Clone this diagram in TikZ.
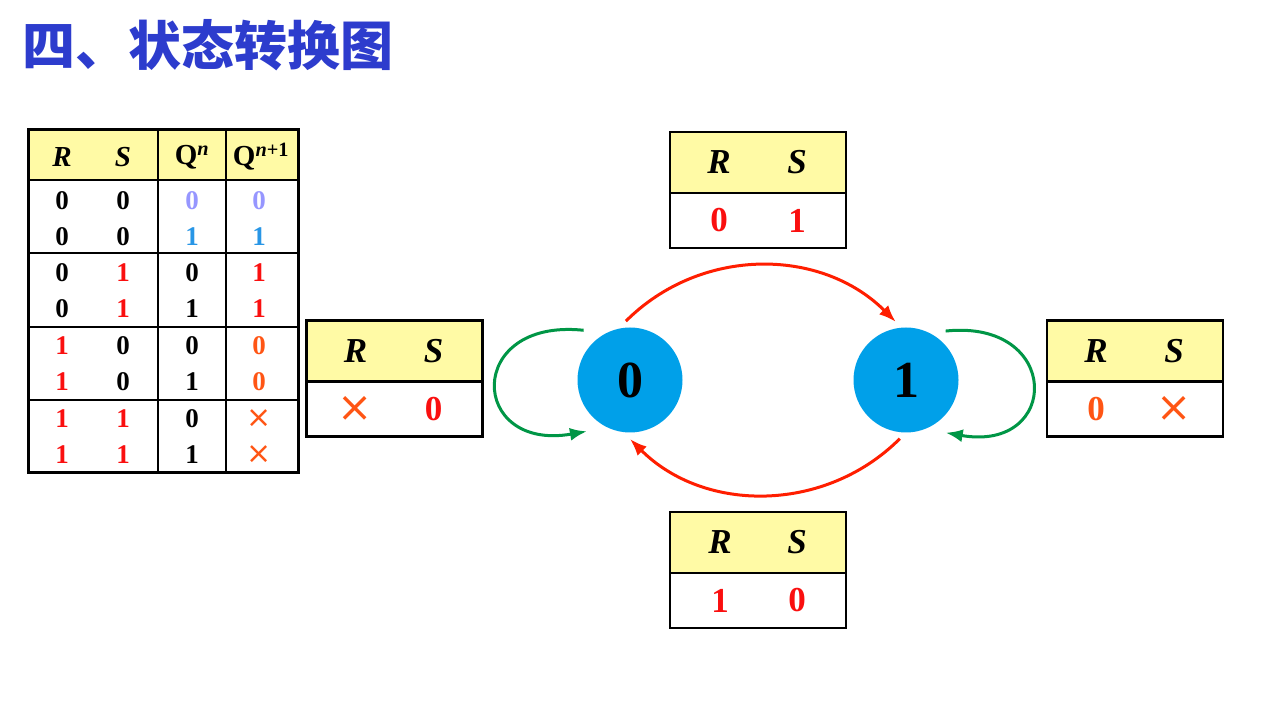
\documentclass[tikz,border=0pt]{standalone}
\usepackage{fontspec}
\setmainfont{Liberation Serif}
\newfontfamily\cjk{Noto Sans CJK SC}
\newfontfamily\symfont{DejaVu Sans}
\usetikzlibrary{arrows.meta, positioning}

\definecolor{headyellow}{RGB}{255,250,165}
\definecolor{titleblue}{RGB}{45,60,205}
\definecolor{stateblue}{RGB}{0,160,233}
\definecolor{arcred}{RGB}{255,30,0}
\definecolor{loopgreen}{RGB}{0,150,70}
\definecolor{lavender0}{RGB}{150,150,255}
\definecolor{sky1}{RGB}{40,150,230}
\definecolor{brightred}{RGB}{250,15,15}
\definecolor{orangered}{RGB}{255,85,20}

\newcommand{\crs}{{\symfont\mdseries\fontsize{30}{30}\selectfont\color{orangered}×}}

\begin{document}
\begin{tikzpicture}[
    x=1pt, y=1pt,
    every node/.style={inner sep=0pt, outer sep=0pt},
    cell/.style={font=\fontsize{27}{27}\selectfont\bfseries},
    headcell/.style={font=\fontsize{29}{29}\selectfont\bfseries},
    boxhead/.style={draw, line width=2.5pt, fill=headyellow, minimum width=176pt, minimum height=61pt},
    boxval/.style={draw, line width=2.5pt, fill=white, minimum width=176pt, minimum height=55pt},
    boxtext/.style={font=\fontsize{35}{35}\selectfont\bfseries},
    bigcross/.style={font=\symfont\fontsize{42}{42}\selectfont\mdseries, text=orangered},
    statenode/.style={circle, fill=stateblue, minimum size=105pt, outer sep=6.5pt, font=\fontsize{52}{52}\selectfont\bfseries},
    transarc/.style={-{Latex[length=17pt, width=13pt]}, line width=3pt, arcred},
    selfloop/.style={-{Latex[length=17pt, width=13pt]}, line width=3pt, loopgreen}
]

% Canvas
\fill[white] (0,0) rectangle (1279,718);
\useasboundingbox (0,0) rectangle (1279,718);

% Title
\node[font=\cjk\fontsize{53}{53}\selectfont\bfseries, text=titleblue, anchor=west] (title) at (22,673) {四、状态转换图};

% ============ Characteristic table ============
\fill[headyellow] (28,588) rectangle (298,538);
\draw[line width=2pt] (28,538) -- (298,538);
\foreach \y in {465, 391, 318} {
    \draw[line width=2pt] (28,\y) -- (298,\y);
}
\draw[line width=2pt] (158,588) -- (158,245);
\draw[line width=2pt] (226,588) -- (226,245);
\draw[line width=3pt] (28,245) rectangle (298,588);

\node[headcell] (hR) at (62,561) {\textit{R}};
\node[headcell] (hS) at (123,561) {\textit{S}};
\node[headcell] (hQ) at (192,561) {Q\textsuperscript{\textit{n}}};
\node[headcell] (hQn) at (261,561) {Q\textsuperscript{\textit{n}+1}};

\foreach \y/\r/\rc/\s/\sc/\q/\qc/\nx/\nc [count=\i] in {
    517/0/black/0/black/0/lavender0/0/lavender0,
    481/0/black/0/black/1/sky1/1/sky1,
    445/0/black/1/brightred/0/black/1/brightred,
    409/0/black/1/brightred/1/black/1/brightred,
    372/1/brightred/0/black/0/black/0/orangered,
    336/1/brightred/0/black/1/black/0/orangered,
    299/1/brightred/1/brightred/0/black/\crs/orangered,
    263/1/brightred/1/brightred/1/black/\crs/orangered} {
    \node[cell, text=\rc] (r\i) at (62,\y) {\r};
    \node[cell, text=\sc] (s\i) at (123,\y) {\s};
    \node[cell, text=\qc] (q\i) at (192,\y) {\q};
    \node[cell, text=\nc] (n\i) at (259,\y) {\nx};
}

% ============ Input boxes ============
% left: hold 0
\node[boxhead] (lefth) at (394.5,367) {};
\node[boxval, below=0pt of lefth] (leftv) {};
\node[boxtext] (leftR) at ([xshift=-39pt]lefth.center) {\textit{R}};
\node[boxtext] (leftS) at ([xshift=39pt]lefth.center) {\textit{S}};
\node[bigcross] (leftr) at ([xshift=-39pt]leftv.center) {×};
\node[boxtext, text=brightred] (lefts) at ([xshift=39pt]leftv.center) {0};

% top: 0 -> 1
\node[boxhead] (toph) at (758,555.5) {};
\node[boxval, below=0pt of toph] (topv) {};
\node[boxtext] (topR) at ([xshift=-39pt]toph.center) {\textit{R}};
\node[boxtext] (topS) at ([xshift=39pt]toph.center) {\textit{S}};
\node[boxtext, text=brightred] (topr) at ([xshift=-39pt]topv.center) {0};
\node[boxtext, text=brightred] (tops) at ([xshift=39pt]topv.center) {1};

% right: hold 1
\node[boxhead] (righth) at (1135,367) {};
\node[boxval, below=0pt of righth] (rightv) {};
\node[boxtext] (rightR) at ([xshift=-39pt]righth.center) {\textit{R}};
\node[boxtext] (rightS) at ([xshift=39pt]righth.center) {\textit{S}};
\node[boxtext, text=orangered] (rightr) at ([xshift=-39pt]rightv.center) {0};
\node[bigcross] (rights) at ([xshift=39pt]rightv.center) {×};

% bottom: 1 -> 0
\node[boxhead] (both) at (758,175.5) {};
\node[boxval, below=0pt of both] (botv) {};
\node[boxtext] (botR) at ([xshift=-38pt]both.center) {\textit{R}};
\node[boxtext] (botS) at ([xshift=39pt]both.center) {\textit{S}};
\node[boxtext, text=brightred] (botr) at ([xshift=-38pt]botv.center) {1};
\node[boxtext, text=brightred] (bots) at ([xshift=39pt]botv.center) {0};

% ============ States ============
\node[statenode] (s0) at (630,338) {0};
\node[statenode] (s1) at (906,338) {1};

% Transitions
\draw[transarc] (s0.94) to[out=45, in=135] (s1.100);
\draw[transarc] (s1.-96) to[out=-135, in=-45] (s0.-90);
\draw[selfloop] ([shift={(133:9)}]s0.133) .. controls +(174:120) and +(190:120) .. ([shift={(-130:8)}]s0.-130);
\draw[selfloop] ([shift={(51:4)}]s1.51) .. controls +(6:117) and +(-10:117) .. ([shift={(-53:7)}]s1.-53);

\end{tikzpicture}
\end{document}
